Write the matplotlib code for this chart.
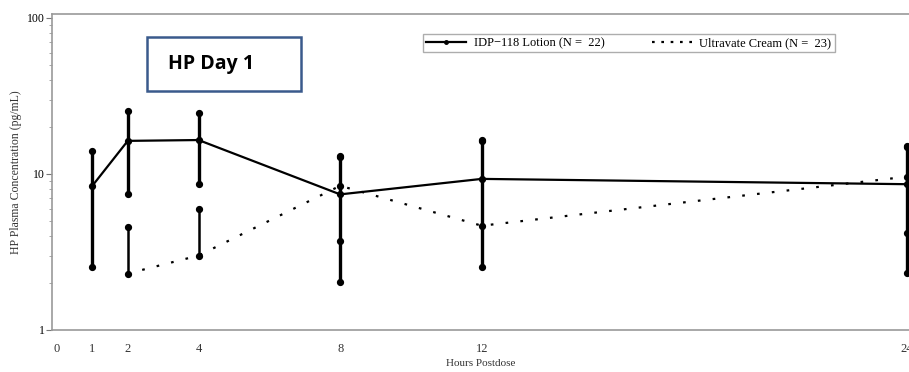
import numpy as np
import matplotlib
matplotlib.use("Agg")
import matplotlib.pyplot as plt
from matplotlib.lines import Line2D

# Данные
hours = [0, 1, 2, 4, 8, 12, 24]
tick_labels = ["0", "1", "2", "4", "8", "12", "24"]

lotion_t = [1, 2, 4, 8, 12, 24]
lotion_mean = [8.4, 16.3, 16.5, 7.4, 9.3, 8.6]
lotion_hi = [14.1, 25.3, 24.7, 13.0, 16.4, 15.0]
lotion_lo = [2.55, 7.4, 8.6, 2.04, 2.55, 2.33]

cream_t = [2, 4, 8, 12, 24]
cream_mean = [2.3, 3.0, 8.4, 4.66, 9.6]
cream_hi = [4.6, 6.0, 12.8, 16.2, 14.8]
cream_lo = [np.nan, np.nan, 3.7, np.nan, 4.17]

lotion_label = "IDP\u2212118 Lotion (N =  22)"
cream_label = "Ultravate Cream (N =  23)"
box_text = "HP Day 1"

serif = ["Liberation Serif", "DejaVu Serif"]

def draw_bars(ax, t, mean, hi, lo, lw):
    for x, m, h, l in zip(t, mean, hi, lo):
        top = h if not np.isnan(h) else m
        bot = l if not np.isnan(l) else m
        ax.plot([x, x], [bot, top], color="black", lw=lw, solid_capstyle="butt", zorder=3)
        ends = [v for v in (h, l) if not np.isnan(v)]
        ax.plot([x] * len(ends), ends, "o", color="black", ms=4.2, zorder=4)

def main():
    fig = plt.figure(figsize=(9.09, 3.72), dpi=100)
    ax = fig.add_axes([52 / 909, 1 - 330 / 372, 1 - 52 / 909, (330 - 14) / 372])

    # сливки — пунктир
    ax.plot(cream_t, cream_mean, color="black", lw=1.6, ls=(0, (1.2, 5.5)), zorder=2)
    ax.plot(cream_t, cream_mean, "o", color="black", ms=4.2, zorder=4)
    draw_bars(ax, cream_t, cream_mean, cream_hi, cream_lo, 1.8)

    # лосьон — сплошная
    ax.plot(lotion_t, lotion_mean, color="black", lw=1.6, zorder=3)
    ax.plot(lotion_t, lotion_mean, "o", color="black", ms=4.2, zorder=4)
    draw_bars(ax, lotion_t, lotion_mean, lotion_hi, lotion_lo, 2.4)

    ax.set_yscale("log")
    ax.set_ylim(1, 106)
    ax.set_xlim(-0.14, 24.07)
    ax.set_yticks([1, 10, 100])
    ax.set_yticklabels(["1", "10", "100"], fontfamily=serif, fontsize=8.5)
    ax.set_xticks(hours)
    ax.set_xticklabels(tick_labels, fontfamily=serif, fontsize=9, color="#333333")
    ax.tick_params(axis="x", length=0, pad=9)
    ax.tick_params(axis="y", which="major", length=4, width=0.8, color="#777777", pad=1)
    ax.tick_params(axis="y", which="minor", length=2, width=0.6, color="#999999")

    for side in ["left", "top", "bottom"]:
        ax.spines[side].set_color("#999999")
        ax.spines[side].set_linewidth(1.2)
    ax.spines["right"].set_visible(False)

    ax.set_xlabel("Hours Postdose", fontfamily=serif, fontsize=8, color="#333333", labelpad=3)
    ax.set_ylabel("HP Plasma Concentration (pg/mL)", fontfamily=serif, fontsize=8.5,
                  color="#333333", labelpad=4)

    handles = [
        Line2D([], [], color="black", lw=1.6, marker="o", ms=2.5, markevery=[0, -1]),
        Line2D([], [], color="black", lw=1.6, ls=(0, (1.2, 3))),
    ]
    leg = ax.legend(handles, [lotion_label, cream_label], loc="upper left",
                    bbox_to_anchor=((423 - 52) / 857, (330 - 34) / 316), ncol=2,
                    frameon=True, fancybox=False, handlelength=3.2, handletextpad=0.6,
                    columnspacing=3.8, borderpad=0.25, borderaxespad=0,
                    prop={"family": serif, "size": 9})
    leg.get_frame().set_edgecolor("#999999")
    leg.get_frame().set_linewidth(1.0)

    fig.text(168 / 909, 1 - 64 / 372, box_text, fontsize=14, fontweight="bold",
             fontfamily=["Open Sans", "DejaVu Sans"], va="center", ha="left")
    rect = plt.Rectangle((147 / 909, 1 - 91 / 372), (301 - 147) / 909, (91 - 37) / 372,
                         transform=fig.transFigure, fill=False, ec="#3A5A8C", lw=1.8)
    fig.add_artist(rect)

    fig.savefig("out.png", dpi=100)

if __name__ == "__main__":
    main()
